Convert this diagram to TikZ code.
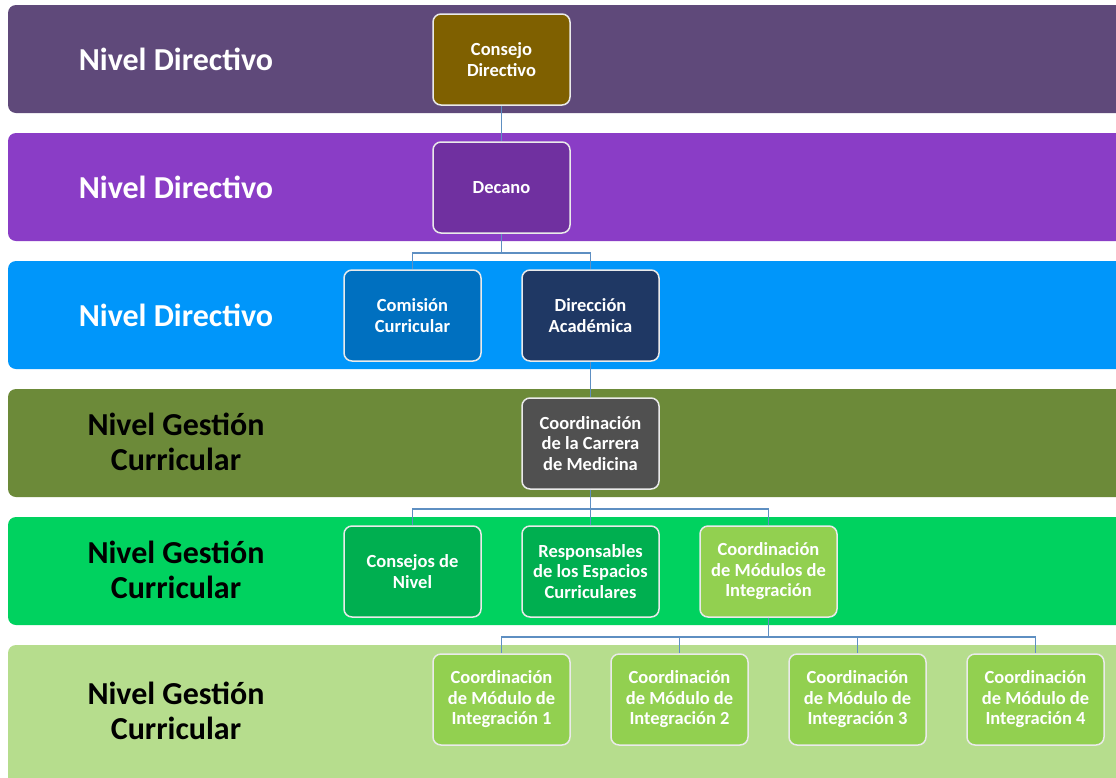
\documentclass[tikz,border=0pt]{standalone}
\usepackage{fontspec}
\setmainfont{Carlito}
\definecolor{bandA}{HTML}{5F497A}
\definecolor{bandB}{HTML}{8A3DC6}
\definecolor{bandC}{HTML}{0096FA}
\definecolor{bandD}{HTML}{6C8A39}
\definecolor{bandE}{HTML}{00D25F}
\definecolor{bandF}{HTML}{B6DD8D}
\definecolor{cBrown}{HTML}{7F6000}
\definecolor{cPurple}{HTML}{7030A0}
\definecolor{cBlue}{HTML}{0070C0}
\definecolor{cNavy}{HTML}{1F3864}
\definecolor{cGray}{HTML}{505050}
\definecolor{cGreen}{HTML}{00AF50}
\definecolor{cLime}{HTML}{92D050}
\definecolor{lineC}{HTML}{5E8FC2}
\definecolor{rimC}{HTML}{EAEAEA}
\begin{document}
\begin{tikzpicture}[x=1pt,y=-1pt,
  band/.style={rounded corners=8pt},
  bandlbl/.style={font=\bfseries\fontsize{32}{35}\selectfont,align=center},
  orgbox/.style={draw=rimC,line width=1.5pt,rounded corners=8pt,minimum width=137pt,minimum height=91pt,inner sep=1pt,align=center,text=white,font=\bfseries\fontsize{18.5}{20.5}\selectfont},
  link/.style={draw=lineC,line width=1.5pt}]
\useasboundingbox (0,0) rectangle (1116,777);
\clip (0,0) rectangle (1116,777);
\fill[white] (0,0) rectangle (1116,777);
% bands
\fill[band,bandA] (8,5) rectangle (1140,113);
\fill[band,bandB] (8,133) rectangle (1140,241);
\fill[band,bandC] (8,261) rectangle (1140,369);
\fill[band,bandD] (8,389) rectangle (1140,497);
\fill[band,bandE] (8,517) rectangle (1140,625);
\fill[band,bandF] (8,645) rectangle (1140,800);
% band labels
\node[bandlbl,text=white] (l1) at (176,59) {Nivel Directivo};
\node[bandlbl,text=white] (l2) at (176,187) {Nivel Directivo};
\node[bandlbl,text=white] (l3) at (176,315) {Nivel Directivo};
\node[bandlbl,text=black] (l4) at (176,442) {Nivel Gestión\\Curricular};
\node[bandlbl,text=black] (l5) at (176,570) {Nivel Gestión\\Curricular};
\node[bandlbl,text=black] (l6) at (176,711) {Nivel Gestión\\Curricular};
% boxes
\node[orgbox,fill=cBrown] (cd) at (501.5,59.5) {Consejo\\Directivo};
\node[orgbox,fill=cPurple] (dec) at (501.5,187.5) {Decano};
\node[orgbox,fill=cBlue] (com) at (412.5,315.5) {Comisión\\Curricular};
\node[orgbox,fill=cNavy] (dir) at (590.5,315.5) {Dirección\\Académica};
\node[orgbox,fill=cGray] (ccm) at (590.5,443.5) {Coordinación\\de la Carrera\\de Medicina};
\node[orgbox,fill=cGreen] (cn) at (412.5,571.5) {Consejos de\\Nivel};
\node[orgbox,fill=cGreen] (resp) at (590.5,571.5) {Responsables\\de los Espacios\\Curriculares};
\node[orgbox,fill=cLime] (cmi) at (768.5,571.5) {Coordinación\\de Módulos de\\Integración};
\node[orgbox,fill=cLime] (m1) at (501.5,699.5) {Coordinación\\de Módulo de\\Integración 1};
\node[orgbox,fill=cLime] (m2) at (679.5,699.5) {Coordinación\\de Módulo de\\Integración 2};
\node[orgbox,fill=cLime] (m3) at (857.5,699.5) {Coordinación\\de Módulo de\\Integración 3};
\node[orgbox,fill=cLime] (m4) at (1035.5,699.5) {Coordinación\\de Módulo de\\Integración 4};
% connectors
\draw[link] (cd.south) -- (dec.north);
\draw[link] (dec.south) -- ++(0,19) -| (com.north);
\draw[link] (dec.south) -- ++(0,19) -| (dir.north);
\draw[link] (dir.south) -- (ccm.north);
\draw[link] (ccm.south) -- ++(0,19) -| (cn.north);
\draw[link] (ccm.south) -- (resp.north);
\draw[link] (ccm.south) -- ++(0,19) -| (cmi.north);
\draw[link] (cmi.south) -- ++(0,19) -| (m1.north);
\draw[link] (cmi.south) -- ++(0,19) -| (m2.north);
\draw[link] (cmi.south) -- ++(0,19) -| (m3.north);
\draw[link] (cmi.south) -- ++(0,19) -| (m4.north);
\end{tikzpicture}
\end{document}
